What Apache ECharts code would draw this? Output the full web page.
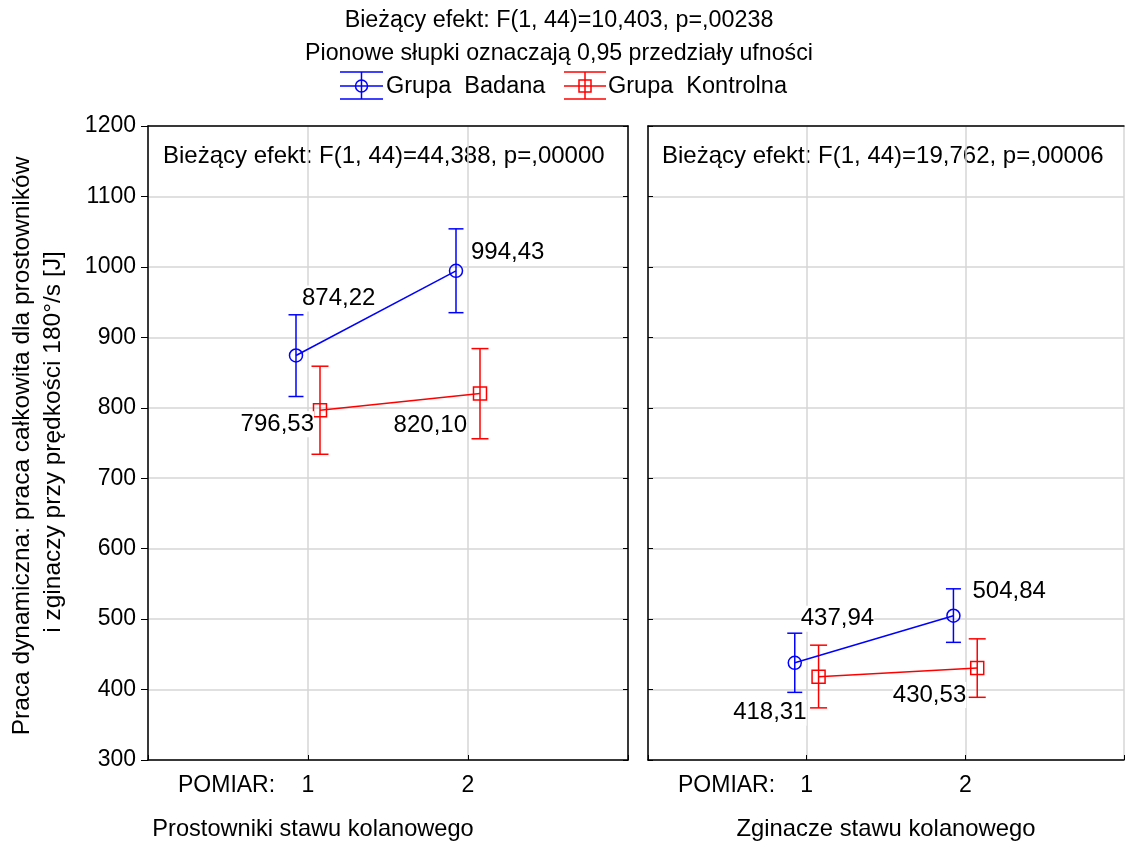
<!DOCTYPE html>
<html>
<head>
<meta charset="utf-8">
<script src="https://cdn.jsdelivr.net/npm/echarts@6/dist/echarts.min.js"></script>
<style>
html,body{margin:0;padding:0;background:#fff;}
#chart{width:1127px;height:843px;}
</style>
</head>
<body>
<div id="chart"></div>
<script>
// ---- Data ----
const measurements = [1, 2];                       // POMIAR
const yTicks = [300, 400, 500, 600, 700, 800, 900, 1000, 1100, 1200];
const groups = ['Grupa  Badana', 'Grupa  Kontrolna'];
const panelTitles = ['Prostowniki stawu kolanowego', 'Zginacze stawu kolanowego'];
const panelEffects = ['Bieżący efekt: F(1, 44)=44,388, p=,00000', 'Bieżący efekt: F(1, 44)=19,762, p=,00006'];
const mainTitle = 'Bieżący efekt: F(1, 44)=10,403, p=,00238';
const subTitle = 'Pionowe słupki oznaczają 0,95 przedziały ufności';
const yTitle1 = 'Praca dynamiczna: praca całkowita dla prostowników';
const yTitle2 = 'i zginaczy przy prędkości 180°/s [J]';

// Prostowniki (extensors)
const extBadanaMean = [874.22, 994.43];
const extBadanaLow = [816, 935];
const extBadanaHigh = [932, 1054];
const extKontrolnaMean = [796.53, 820.10];
const extKontrolnaLow = [734, 756];
const extKontrolnaHigh = [859, 884];
// Zginacze (flexors)
const flexBadanaMean = [437.94, 504.84];
const flexBadanaLow = [396, 467];
const flexBadanaHigh = [480, 543];
const flexKontrolnaMean = [418.31, 430.53];
const flexKontrolnaLow = [374, 389];
const flexKontrolnaHigh = [463, 472];

// ---- Styling ----
const FONT = 'Liberation Sans, Arial, sans-serif';
const FS = 23;
const FS_BIG = 24;
const BLUE = '#0000ff', RED = '#ff0000';
const groupShift = [-0.075, 0.075];
// label placement per panel / group / point: [align, dx, dy]
const labelPlacement = [
  [[['left', 6, -57], ['left', 15, -18]], [['right', -6, 14], ['right', -13, 32]]],
  [[['left', 6, -44], ['left', 19, -24]], [['right', -12, 36], ['right', -11, 27]]]
];

const panels = [
  {means: [extBadanaMean, extKontrolnaMean], lows: [extBadanaLow, extKontrolnaLow], highs: [extBadanaHigh, extKontrolnaHigh]},
  {means: [flexBadanaMean, flexKontrolnaMean], lows: [flexBadanaLow, flexKontrolnaLow], highs: [flexBadanaHigh, flexKontrolnaHigh]}
];
const colors = [BLUE, RED];
const symbols = ['circle', 'rect'];
const symbolSizes = [13, 13];
const capHalf = [7.5, 8.5];

const gridLefts = [148, 648];
const grids = gridLefts.map(l => ({left: l, top: 126, width: 480, height: 634, containLabel: false}));

const xAxes = [], yAxes = [];
gridLefts.forEach((_, gi) => {
  xAxes.push({
    type: 'value', gridIndex: gi, min: 0, max: 3, interval: 1, position: 'bottom',
    axisLine: {show: true, onZero: false, lineStyle: {color: '#000', width: 1.5}},
    axisTick: {show: true, inside: true, length: 5, lineStyle: {color: '#000', width: 1}},
    axisLabel: {show: true, margin: 14, color: '#000', fontSize: FS, fontFamily: FONT,
      formatter: v => (measurements.indexOf(v) >= 0 ? String(v) : '')},
    splitLine: {show: true, lineStyle: {color: '#d6d6d6', width: 1.5}}
  });
  xAxes.push({
    type: 'value', gridIndex: gi, min: 0, max: 3, interval: 1, position: 'top',
    axisLine: {show: true, onZero: false, lineStyle: {color: '#000', width: 1.5}},
    axisTick: {show: false}, axisLabel: {show: false}, splitLine: {show: false}
  });
  yAxes.push({
    type: 'value', gridIndex: gi, min: yTicks[0], max: yTicks[yTicks.length - 1], interval: 100, position: 'left',
    axisLine: {show: true, onZero: false, lineStyle: {color: '#000', width: 1.5}},
    axisTick: {show: true, inside: gi === 1, length: gi === 0 ? 7 : 5, lineStyle: {color: '#000', width: 1}},
    axisLabel: {show: gi === 0, margin: 12, color: '#000', fontSize: FS, fontFamily: FONT,
      formatter: v => (yTicks.indexOf(v) >= 0 ? String(v) : '')},
    splitLine: {show: true, lineStyle: {color: '#d6d6d6', width: 1.5}}
  });
  yAxes.push({
    type: 'value', gridIndex: gi, min: yTicks[0], max: yTicks[yTicks.length - 1], interval: 100, position: 'right',
    axisLine: {show: gi === 0, onZero: false, lineStyle: {color: '#000', width: 1.5}},
    axisTick: {show: gi === 0, inside: true, length: 5, lineStyle: {color: '#000', width: 1}},
    axisLabel: {show: false}, splitLine: {show: false}
  });
});

const fmt = v => v.toFixed(2).replace('.', ',');

const series = [];
panels.forEach((p, pi) => {
  [0, 1].forEach(gi => {
    const errData = measurements.map((m, i) => [m + groupShift[gi], p.lows[gi][i], p.highs[gi][i]]);
    series.push({
      type: 'custom', xAxisIndex: pi * 2, yAxisIndex: pi * 2, z: 2, silent: true,
      data: errData,
      renderItem: (params, api) => {
        const x = api.value(0);
        const top = api.coord([x, api.value(2)]);
        const bot = api.coord([x, api.value(1)]);
        const h = capHalf[gi];
        const st = {stroke: colors[gi], lineWidth: 1.5};
        return {type: 'group', children: [
          {type: 'line', shape: {x1: top[0], y1: top[1], x2: bot[0], y2: bot[1]}, style: st},
          {type: 'line', shape: {x1: top[0] - h, y1: top[1], x2: top[0] + h, y2: top[1]}, style: st},
          {type: 'line', shape: {x1: bot[0] - h, y1: bot[1], x2: bot[0] + h, y2: bot[1]}, style: st}
        ]};
      }
    });
    series.push({
      type: 'line', name: groups[gi], xAxisIndex: pi * 2, yAxisIndex: pi * 2, z: 3,
      symbol: symbols[gi], symbolSize: symbolSizes[gi], showAllSymbol: true,
      lineStyle: {color: colors[gi], width: 1.5},
      itemStyle: {color: 'rgba(255,255,255,0)', borderColor: colors[gi], borderWidth: 1.5},
      animation: false,
      data: measurements.map((m, i) => {
        const lp = labelPlacement[pi][gi][i];
        return {
          value: [m + groupShift[gi], p.means[gi][i]],
          label: {
            show: true, position: 'inside', align: lp[0], verticalAlign: 'middle',
            offset: [lp[1], lp[2]],
            formatter: fmt(p.means[gi][i]),
            color: '#000', fontSize: FS_BIG, fontFamily: FONT,
            backgroundColor: '#fff', padding: [1, 0]
          }
        };
      })
    });
  });
});

const txt = (x, y, text, extra, size) => ({
  type: 'text', x: x, y: y,
  style: Object.assign({text: text, fill: '#000', font: (size || FS) + 'px ' + FONT, textAlign: 'left', textVerticalAlign: 'middle'}, extra || {})
});

const graphics = [
  txt(559, 21, mainTitle, {textAlign: 'center'}, 23.3),
  txt(559, 54, subTitle, {textAlign: 'center'}, 23.2),
  txt(163, 156, panelEffects[0], null, FS_BIG),
  txt(662, 156, panelEffects[1], null, FS_BIG),
  txt(178, 786, 'POMIAR:'),
  txt(678, 786, 'POMIAR:'),
  txt(313, 829, panelTitles[0], {textAlign: 'center'}, 23.6),
  txt(886, 829, panelTitles[1], {textAlign: 'center'}, 23.8),
  {type: 'text', x: 22, y: 446, rotation: Math.PI / 2,
    style: {text: yTitle1, fill: '#000', font: '24.5px ' + FONT, textAlign: 'center', textVerticalAlign: 'middle'}},
  {type: 'text', x: 53, y: 442, rotation: Math.PI / 2,
    style: {text: yTitle2, fill: '#000', font: '24.5px ' + FONT, textAlign: 'center', textVerticalAlign: 'middle'}}
];
// legend
const legendIcons = [{x: 340, w: 43, textX: 386}, {x: 564, w: 42, textX: 608}];
legendIcons.forEach((li, gi) => {
  const cx = li.x + li.w / 2, cy = 86;
  const st = {stroke: colors[gi], lineWidth: 1.5, fill: null};
  graphics.push({type: 'line', shape: {x1: li.x, y1: 72, x2: li.x + li.w, y2: 72}, style: st});
  graphics.push({type: 'line', shape: {x1: li.x, y1: 99, x2: li.x + li.w, y2: 99}, style: st});
  graphics.push({type: 'line', shape: {x1: cx, y1: 72, x2: cx, y2: 99}, style: st});
  graphics.push({type: 'line', shape: {x1: li.x, y1: cy, x2: li.x + li.w, y2: cy}, style: st});
  if (gi === 0) graphics.push({type: 'circle', shape: {cx: cx, cy: cy, r: 6}, style: {stroke: colors[gi], lineWidth: 1.5, fill: 'rgba(0,0,0,0)'}});
  else graphics.push({type: 'rect', shape: {x: cx - 6, y: cy - 6, width: 12, height: 12}, style: {stroke: colors[gi], lineWidth: 1.5, fill: 'rgba(0,0,0,0)'}});
  graphics.push(txt(li.textX, 87, groups[gi], null, 23.5));
});

const chart = echarts.init(document.getElementById('chart'), null, {renderer: 'canvas'});
chart.setOption({
  backgroundColor: '#fff',
  animation: false,
  grid: grids,
  xAxis: xAxes,
  yAxis: yAxes,
  series: series,
  graphic: graphics
});
</script>
</body>
</html>
